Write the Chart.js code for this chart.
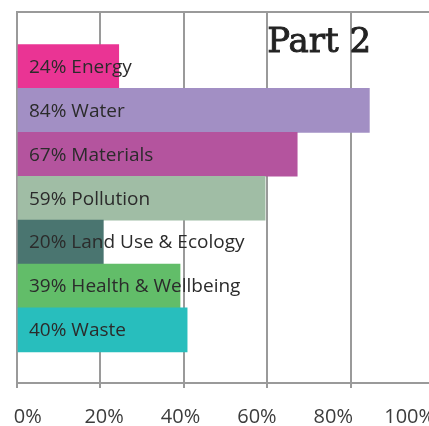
<!DOCTYPE html>
<html>
<head>
<meta charset="utf-8">
<script src="https://cdn.jsdelivr.net/npm/chart.js@4/dist/chart.umd.min.js"></script>
<style>
  html, body { margin: 0; padding: 0; background: #fff; overflow: hidden; width: 429px; height: 426px; }
  #wrap { position: relative; width: 434px; height: 426px; }
</style>
</head>
<body>
<div id="wrap"><canvas id="chart"></canvas></div>
<script>
const categories = ['Energy', 'Water', 'Materials', 'Pollution', 'Land Use & Ecology', 'Health & Wellbeing', 'Waste'];
const percentLabels = ['24%', '84%', '67%', '59%', '20%', '39%', '40%'];
const values = [24.4, 84.5, 67.2, 59.5, 20.7, 39.1, 40.8];
const barColors = ['#EA3494', '#A28FC4', '#B4549E', '#A0BDA5', '#4A7570', '#62BD69', '#28BEBD'];
const tickValues = [0, 20, 40, 60, 80, 100];
const title = 'Part 2';

const gridColor = '#9a9a9a';

// text inside each bar, plus the title
const barText = {
  id: 'barText',
  afterDatasetsDraw(chart) {
    const ctx = chart.ctx;
    const meta = chart.getDatasetMeta(0);
    ctx.save();
    ctx.font = '19px "Open Sans"';
    ctx.fillStyle = '#2b2b2b';
    ctx.textBaseline = 'middle';
    ctx.textAlign = 'left';
    meta.data.forEach((bar, i) => {
      ctx.fillText(percentLabels[i] + ' ' + categories[i], chart.chartArea.left + 12, bar.y + 1);
    });
    // medium weight slab look: regular serif with a light stroke
    ctx.font = '34px "DejaVu Serif"';
    ctx.fillStyle = '#222';
    ctx.strokeStyle = '#222';
    ctx.lineWidth = 0.9;
    ctx.textBaseline = 'alphabetic';
    const tx = chart.scales.x.getPixelForValue(60);
    ctx.fillText(title, tx, 52);
    ctx.strokeText(title, tx, 52);
    ctx.restore();
  }
};

new Chart(document.getElementById('chart'), {
  type: 'bar',
  data: {
    datasets: [{
      data: values.map((v, i) => ({ x: v, y: i })),
      backgroundColor: barColors,
      borderWidth: 0,
      barPercentage: 1,
      categoryPercentage: 1
    }]
  },
  options: {
    indexAxis: 'y',
    responsive: true,
    maintainAspectRatio: false,
    animation: false,
    layout: { padding: { left: 17, top: 12, right: 0, bottom: 0 } },
    plugins: { legend: { display: false }, tooltip: { enabled: false } },
    scales: {
      y: {
        type: 'linear',
        reverse: true,
        offset: false,
        min: -1.24,
        max: 7.21,
        ticks: { display: false },
        afterBuildTicks: (s) => { s.ticks = [{ value: s.min }]; },
        afterFit: (s) => { s.width = 0; },
        grid: { color: gridColor, lineWidth: 2, drawTicks: false, offset: false },
        border: { display: true, color: gridColor, width: 2 }
      },
      x: {
        type: 'linear',
        position: 'bottom',
        min: 0,
        max: 100,
        afterBuildTicks: (s) => { s.ticks = tickValues.map(v => ({ value: v })); },
        ticks: { display: false },
        afterFit: (s) => { s.height = 5; s.paddingLeft = 0; s.paddingRight = 0; },
        grid: { color: gridColor, lineWidth: 2, tickLength: 5, tickColor: gridColor },
        border: { display: true, color: gridColor, width: 2 }
      },
      x2: {
        type: 'linear',
        position: 'bottom',
        min: -2.81,
        max: 106.37,
        afterBuildTicks: (s) => { s.ticks = tickValues.map(v => ({ value: v })); },
        afterFit: (s) => { s.height = 38; s.paddingLeft = 0; s.paddingRight = 0; },
        grid: { display: false, drawTicks: false },
        border: { display: false },
        ticks: {
          color: '#3c3c3c',
          font: { family: 'Open Sans', size: 20 },
          padding: 17,
          maxRotation: 0,
          autoSkip: false,
          callback: (v) => v + '%'
        }
      }
    }
  },
  plugins: [barText]
});
</script>
</body>
</html>
